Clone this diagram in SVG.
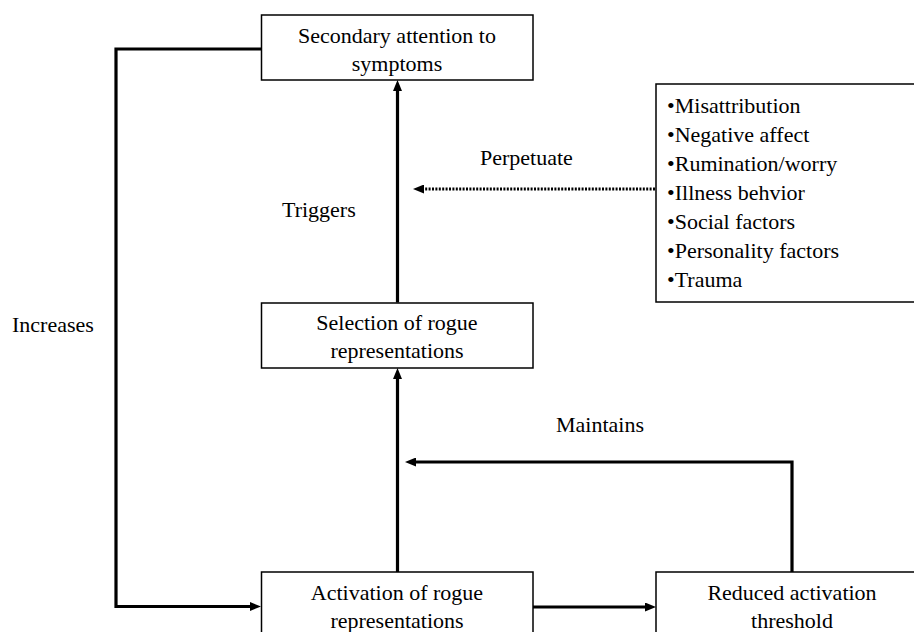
<svg xmlns="http://www.w3.org/2000/svg" width="914" height="632" viewBox="0 0 914 632">
  <style>
    .box { fill: #fff; stroke: #000; stroke-width: 1.5; }
    .t { font-size: 22px; fill: #000; }
    .c { text-anchor: middle; }
    .link { fill: none; stroke: #000; stroke-width: 3.2; }
    .dot { fill: none; stroke: #000; stroke-width: 3; stroke-dasharray: 2 1.4; }
  </style>
  <defs>
    <marker id="head" markerUnits="userSpaceOnUse" markerWidth="11" markerHeight="9" viewBox="0 0 11 9" refX="6" refY="4.5" orient="auto">
      <path d="M0,0 L11,4.5 L0,9 z" fill="#000"/>
    </marker>
  </defs>

  <rect width="914" height="632" fill="#fff"/>

  <!-- connectors -->
  <g id="connectors">
    <!-- Increases loop: attention back to activation -->
    <path class="link" d="M261.5,49 H116 V606.5 H256" marker-end="url(#head)"/>
    <!-- Triggers: selection up to attention -->
    <path class="link" d="M397.5,302.5 V85" marker-end="url(#head)"/>
    <!-- activation up to selection -->
    <path class="link" d="M397.5,572 V373" marker-end="url(#head)"/>
    <!-- activation to reduced threshold -->
    <path class="link" d="M533,607 H651" marker-end="url(#head)"/>
    <!-- Maintains: threshold back to the activation path -->
    <path class="link" d="M792,572 V462 H410" marker-end="url(#head)"/>
    <!-- Perpetuate: factors to the triggering path -->
    <path class="dot" d="M655,189 H418" marker-end="url(#head)"/>
  </g>

  <g font-family="'Liberation Serif', 'Times New Roman', Times, 'DejaVu Serif', serif">
    <!-- edge labels -->
    <g id="labels">
      <text class="t" x="12" y="332">Increases</text>
      <text class="t" x="282" y="217">Triggers</text>
      <text class="t" x="480" y="165">Perpetuate</text>
      <text class="t" x="556" y="432">Maintains</text>
    </g>

    <g id="attention">
      <rect class="box" x="261.5" y="15" width="271.5" height="65"/>
      <text class="t c" x="397" y="43">Secondary attention to</text>
      <text class="t c" x="397" y="71">symptoms</text>
    </g>

    <g id="selection">
      <rect class="box" x="261.5" y="303" width="271.5" height="65"/>
      <text class="t c" x="397" y="330">Selection of rogue</text>
      <text class="t c" x="397" y="358">representations</text>
    </g>

    <g id="activation">
      <rect class="box" x="261.5" y="572" width="271.5" height="80"/>
      <text class="t c" x="397" y="600">Activation of rogue</text>
      <text class="t c" x="397" y="628">representations</text>
    </g>

    <g id="threshold">
      <rect class="box" x="656" y="572" width="272" height="80"/>
      <text class="t c" x="792" y="600">Reduced activation</text>
      <text class="t c" x="792" y="628">threshold</text>
    </g>

    <g id="factors">
      <rect class="box" x="656" y="84" width="280" height="218"/>
      <text class="t" x="667" y="113">•Misattribution</text>
      <text class="t" x="667" y="142">•Negative affect</text>
      <text class="t" x="667" y="171">•Rumination/worry</text>
      <text class="t" x="667" y="200">•Illness behvior</text>
      <text class="t" x="667" y="229">•Social factors</text>
      <text class="t" x="667" y="258">•Personality factors</text>
      <text class="t" x="667" y="287">•Trauma</text>
    </g>
  </g>
</svg>
